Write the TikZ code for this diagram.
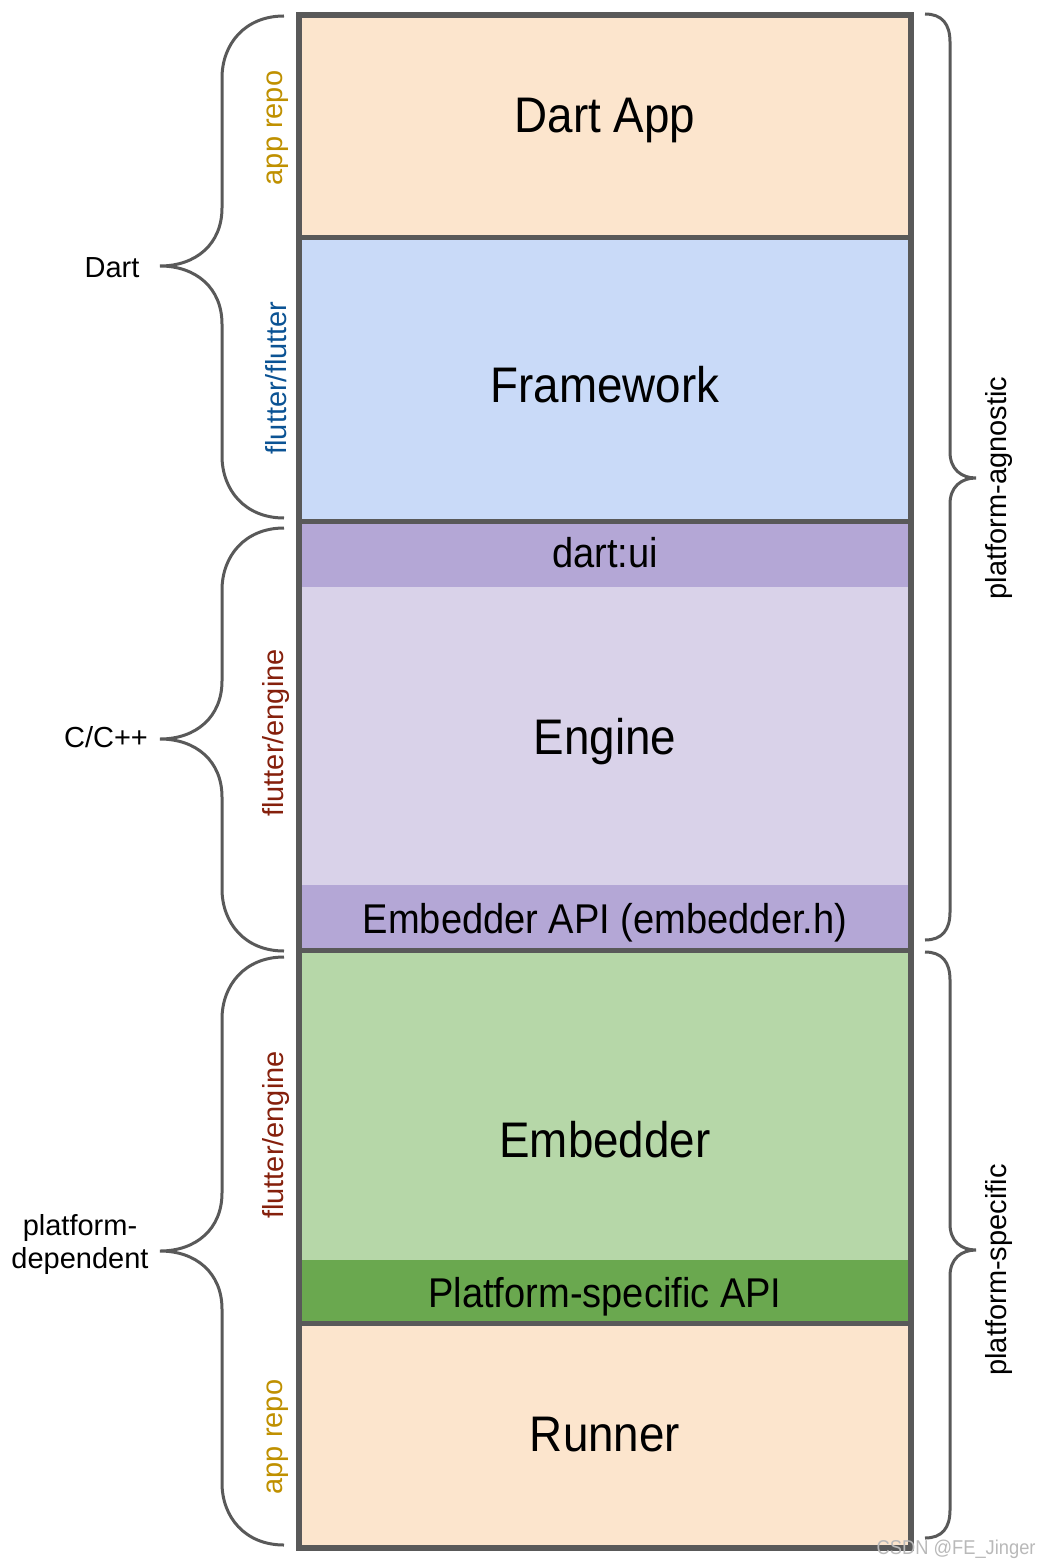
\documentclass[tikz,border=0pt]{standalone}
\usepackage{fontspec}
\setmainfont{Liberation Sans}
\newfontfamily\boxfont{Liberation Sans}[FakeStretch=0.915]
\usetikzlibrary{positioning}

\definecolor{appc}{HTML}{FCE5CD}
\definecolor{fwc}{HTML}{C9DAF8}
\definecolor{apic}{HTML}{B4A7D6}
\definecolor{engc}{HTML}{D9D2E9}
\definecolor{embc}{HTML}{B6D7A8}
\definecolor{platc}{HTML}{6AA84F}
\definecolor{linec}{HTML}{595959}
\definecolor{repoc}{HTML}{BF9000}
\definecolor{fltc}{HTML}{0B5394}
\definecolor{engtc}{HTML}{85200C}

% left brace: top, bottom, tip
\newcommand{\leftbrc}[3]{\draw[brc] (284,#1) .. controls (245,#1) and (222,#1+28) .. (222,#1+62)
  -- (222,#3-58) .. controls (222,#3-22) and (196,#3) .. (160,#3)
  .. controls (196,#3) and (222,#3+22) .. (222,#3+58)
  -- (222,#2-62) .. controls (222,#2-28) and (245,#2) .. (284,#2);}
% right brace: top, bottom, tip
\newcommand{\rightbrc}[3]{\draw[brc] (925,#1) .. controls (942,#1) and (950,#1+10) .. (950,#1+28)
  -- (950,#3-26) .. controls (950,#3-9) and (961,#3) .. (976,#3)
  .. controls (961,#3) and (950,#3+9) .. (950,#3+26)
  -- (950,#2-28) .. controls (950,#2-10) and (942,#2) .. (925,#2);}

\begin{document}
\begin{tikzpicture}[x=0.5pt,y=-0.5pt,
    big/.style={font=\boxfont\fontsize{25}{30}\selectfont, anchor=base},
    mid/.style={font=\boxfont\fontsize{20.8}{25}\selectfont, anchor=base},
    lbl/.style={font=\fontsize{14.5}{16.5}\selectfont, align=center},
    repo/.style={font=\fontsize{14.5}{17}\selectfont, rotate=90},
    brc/.style={draw=linec, line width=1.5pt},
    sep/.style={draw=linec, line width=2.5pt}]
    \useasboundingbox (0,0) rectangle (1041,1567);

    % layers
    \fill[appc] (299,15) rectangle (911,238);
    \fill[fwc] (299,238) rectangle (911,521);
    \fill[apic] (299,521) rectangle (911,587);
    \fill[engc] (299,587) rectangle (911,885);
    \fill[apic] (299,885) rectangle (911,950);
    \fill[embc] (299,950) rectangle (911,1260);
    \fill[platc] (299,1260) rectangle (911,1323);
    \fill[appc] (299,1323) rectangle (911,1548);
    \draw[sep] (299,238) -- (911,238);
    \draw[sep] (299,521) -- (911,521);
    \draw[sep] (299,950) -- (911,950);
    \draw[sep] (299,1323) -- (911,1323);
    \draw[linec, line width=3pt] (299,15) rectangle (911,1548);

    \node[big] (dartapp) at (605,133) {Dart App};
    \node[big] (framework) at (605,402) {Framework};
    \node[mid] (dartui) at (605,567) {dart:ui};
    \node[big] (engine) at (605,754) {Engine};
    \node[mid] (embapi) at (605,933) {Embedder API (embedder.h)};
    \node[big] (embedder) at (605,1157) {Embedder};
    \node[mid] (platapi) at (605,1307) {Platform-specific API};
    \node[big] (runner) at (605,1451) {Runner};

    % braces
    \leftbrc{16}{518}{266}
    \leftbrc{528}{951}{739}
    \leftbrc{957}{1545}{1251}
    \rightbrc{14}{940}{478}
    \rightbrc{952}{1538}{1250}

    \node[lbl, anchor=base] (dart) at (112,278) {Dart};
    \node[lbl, anchor=base] (cpp) at (106,747) {C/C++};
    \node[lbl] (pdep) at (80,1244) {platform-\\dependent};

    \node[repo, text=repoc] (repo1) at (278,128) {app repo};
    \node[repo, text=fltc] (flt) at (276,378) {flutter/flutter};
    \node[repo, text=engtc] (eng1) at (276,733) {flutter/engine};
    \node[repo, text=engtc] (eng2) at (276,1135) {flutter/engine};
    \node[repo, text=repoc] (repo2) at (278,1437) {app repo};

    \node[repo] (agn) at (999,488) {platform-agnostic};
    \node[repo] (spec) at (999,1270) {platform-specific};

    \node[font=\boxfont\fontsize{10}{12}\selectfont, text=gray!55, anchor=east, inner sep=1pt] (mark) at (1038,1549) {CSDN @FE\_Jinger};
\end{tikzpicture}
\end{document}
